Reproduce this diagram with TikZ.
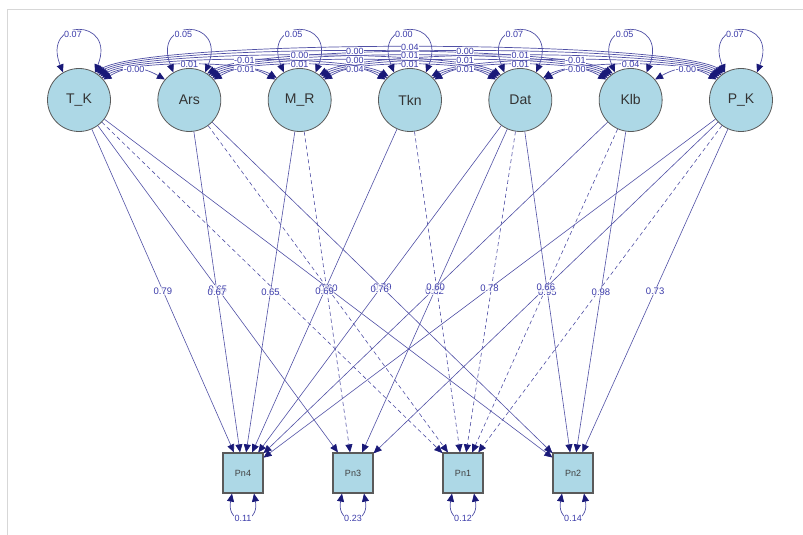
\documentclass[tikz,border=0pt]{standalone}
\usepackage{fontspec}
\setmainfont{Liberation Sans}
\usetikzlibrary{arrows.meta,calc}
\definecolor{edgec}{RGB}{80,80,165}
\definecolor{arrc}{RGB}{25,25,120}
\definecolor{labc}{RGB}{60,60,170}
\definecolor{nodefill}{RGB}{173,216,230}
\definecolor{nodeline}{RGB}{90,90,90}
\definecolor{framec}{RGB}{215,215,215}
\begin{document}
\begin{tikzpicture}[x=1pt,y=1pt,
  >={Triangle[length=8pt,width=7pt,color=arrc]},
  lat/.style={circle,draw=nodeline,fill=nodefill,line width=0.8pt,minimum size=63pt,inner sep=0pt,font=\fontsize{14}{14}\selectfont,text=black!80},
  man/.style={rectangle,draw=nodeline,fill=nodefill,line width=1.2pt,minimum size=40pt,inner sep=0pt,font=\fontsize{9}{9}\selectfont,text=black!75},
  ld/.style={draw=edgec,line width=0.6pt,->},
  ldd/.style={ld,dash pattern=on 4pt off 3pt},
  cv/.style={draw=edgec,line width=0.7pt,<->},
  el/.style={font=\fontsize{9.5}{9.5}\selectfont,text=labc,fill=white,fill opacity=0.7,text opacity=1,inner sep=0.5pt},
  cl/.style={font=\fontsize{9}{9}\selectfont,text=labc,fill=white,inner sep=0.5pt}]
\useasboundingbox (0,0) rectangle (803,535);
\draw[framec,line width=0.8pt] (803,526) -- (7,526) -- (7,0);
% latent variables
\foreach \k/\nm in {1/T\_K,2/Ars,3/M\_R,4/Tkn,5/Dat,6/Klb,7/P\_K}
  \node[lat] (n\k) at ({79+110.33*(\k-1)},435) {\nm};
% manifest variables
\node[man] (p4) at (243,62) {Pn4};
\node[man] (p3) at (353,62) {Pn3};
\node[man] (p1) at (463,62) {Pn1};
\node[man] (p2) at (573,62) {Pn2};
% loadings
\foreach \i/\j in {1/4,1/3,1/2,2/4,2/2,3/4,4/4,5/4,5/3,5/2,6/4,6/2,7/4,7/3,7/2}
  \draw[ld] (n\i) -- (p\j);
\foreach \i/\j in {1/1,2/1,3/3,4/1,5/1,6/1,7/1}
  \draw[ldd] (n\i) -- (p\j);
% covariances between latents
\foreach \i/\j in {1/2,2/3,3/4,4/5,5/6,6/7,1/3,2/4,3/5,4/6,5/7,1/4,2/5,3/6,4/7,1/5,2/6,3/7,1/6,2/7,1/7}{
  \pgfmathtruncatemacro{\aa}{36+4*(\j-\i)}
  \pgfmathtruncatemacro{\bb}{180-\aa}
  \pgfmathtruncatemacro{\cc}{19+8*(\j-\i)}
  \draw[cv] (n\i.\aa) .. controls +(30:\cc) and +(150:\cc) .. (n\j.\bb);
}
% variances of latents
\foreach \k in {1,...,7}
  \draw[cv] (n\k.120) .. controls +(-22,55) and +(22,55) .. (n\k.60);
% residual variances
\foreach \b in {4,3,1,2}
  \draw[cv] ($(p\b.south)+(-11,0)$) .. controls +(-6,-32) and +(6,-32) .. ($(p\b.south)+(11,0)$);
% loading labels
\foreach \i/\j/\v in {1/4/0.79,1/3/0.65,2/4/0.67,3/4/0.65,1/2/0.60,4/4/0.69,2/2/0.79,5/4/0.76,5/3/0.62,6/4/0.60,7/4/0.78,5/2/0.95,7/3/0.66,6/2/0.98,7/2/0.73}
  \path (n\i) -- node[el]{\v} (p\j);
% covariance labels
\foreach \i/\j/\v in {1/2/-0.00,2/3/-0.01,3/4/0.04,4/5/0.01,5/6/-0.00,6/7/-0.00,1/3/0.01,2/4/0.01,3/5/0.01,4/6/0.01,5/7/0.04,1/4/-0.01,2/5/0.00,3/6/0.01,4/7/-0.01,1/5/0.00,2/6/0.01,3/7/0.01,1/6/0.00,2/7/0.00,1/7/0.04}{
  \pgfmathtruncatemacro{\aa}{36+4*(\j-\i)}
  \pgfmathtruncatemacro{\bb}{180-\aa}
  \pgfmathtruncatemacro{\cc}{19+8*(\j-\i)}
  \path (n\i.\aa) .. controls +(30:\cc) and +(150:\cc) .. (n\j.\bb) node[pos=0.5,cl]{\v};
}
% variance labels
\foreach \k/\v in {1/0.07,2/0.05,3/0.05,4/0.00,5/0.07,6/0.05,7/0.07}
  \node[cl] (vl\k) at ($(n\k)+(-6,66)$) {\v};
\foreach \b/\v in {4/0.11,3/0.23,1/0.12,2/0.14}
  \node[cl] (rl\b) at ($(p\b.south)+(0,-25)$) {\v};
\end{tikzpicture}
\end{document}
